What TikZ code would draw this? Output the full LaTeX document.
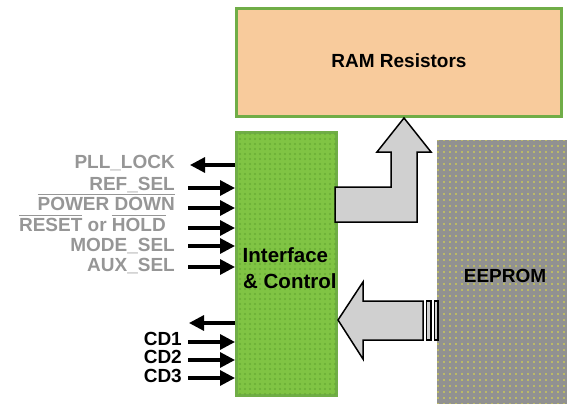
\documentclass[tikz,border=0pt]{standalone}
\usepackage{fontspec}
\setmainfont{Liberation Sans}
\usetikzlibrary{arrows.meta,patterns.meta}
\definecolor{grnbd}{RGB}{112,173,71}
\definecolor{grnfill}{RGB}{128,196,68}
\definecolor{grndot}{RGB}{106,174,54}
\definecolor{peach}{RGB}{248,203,156}
\definecolor{eegray}{RGB}{145,145,145}
\definecolor{eedot}{RGB}{232,226,60}
\definecolor{lblgray}{RGB}{150,150,150}
\definecolor{arrgray}{RGB}{208,208,208}
\newcommand\myovl[1]{\leavevmode\vbox{\hrule height 1.3pt\kern 1.6pt\hbox{#1}}}
\begin{document}
\begin{tikzpicture}[x=1pt,y=-1pt,
  boxstyle/.style={draw=grnbd, line width=3pt, inner sep=0pt},
  ramstyle/.style={boxstyle, fill=peach, minimum width=325pt, minimum height=108pt},
  ifacestyle/.style={boxstyle, fill=grnfill, minimum width=100pt, minimum height=263pt,
     postaction={pattern={Dots[distance=5pt,radius=1.2pt]}, pattern color=grndot}},
  eestyle/.style={fill=eegray, inner sep=0pt, minimum width=130pt, minimum height=264pt,
     postaction={pattern={Dots[distance=6pt,radius=0.9pt]}, pattern color=eedot}},
  bigtxt/.style={font=\fontsize{19}{22}\selectfont\bfseries, inner sep=0pt},
  iftxt/.style={font=\fontsize{20.5}{24}\selectfont\bfseries, inner sep=0pt, anchor=base west},
  lbl/.style={font=\fontsize{19}{22}\selectfont\bfseries, text=lblgray, inner sep=0pt, anchor=base east},
  cdlbl/.style={font=\fontsize{19}{22}\selectfont\bfseries, text=black, inner sep=0pt, anchor=base east},
  sigarrow/.style={draw=black, line width=3.2pt, -{Triangle[length=15pt,width=15pt]}},
  blockarrow/.style={draw=black, line width=1.5pt, fill=arrgray, line join=miter}
]
\useasboundingbox (0,0) rectangle (568,404);

% boxes
\node[ramstyle] (ram) at (399,62.5) {};
\node[bigtxt, anchor=base] (ramtxt) at (399,68) {RAM Resistors};
\node[eestyle] (ee) at (502,272) {};
\node[bigtxt, anchor=base] (eetxt) at (505,282) {EEPROM};
\node[ifacestyle] (iface) at (286.5,264) {};
\node[iftxt] (if1) at (242.5,262) {Interface};
\node[iftxt] (if2) at (243,288.5) {\& Control};

% block arrow up (L shaped)
\draw[blockarrow] (335,187) -- (391,187) -- (391,152) -- (377,152) -- (404,118)
   -- (431,152) -- (417,152) -- (417,222) -- (335,222) -- cycle;
% block arrow left from EEPROM
\draw[blockarrow] (338,320) -- (363,282) -- (363,301) -- (423,301) -- (423,340)
   -- (363,340) -- (363,359) -- cycle;
\draw[blockarrow] (426.5,301) rectangle (431,340);
\draw[blockarrow] (434.5,301) rectangle (438,340);

% signal coordinates
\coordinate (pll) at (190,165);
\coordinate (refs) at (188,188);
\coordinate (pdn) at (188,208);
\coordinate (rst) at (188,228);
\coordinate (mode) at (188,246);
\coordinate (aux) at (188,267);
\coordinate (cdo) at (189,323);
\coordinate (cd1) at (188,342);
\coordinate (cd2) at (188,360);
\coordinate (cd3) at (188,378);

\draw[sigarrow] (pll -| iface.west) -- (pll);
\draw[sigarrow] (refs) -- (refs -| iface.west);
\draw[sigarrow] (pdn) -- (pdn -| iface.west);
\draw[sigarrow] (rst) -- (rst -| iface.west);
\draw[sigarrow] (mode) -- (mode -| iface.west);
\draw[sigarrow] (aux) -- (aux -| iface.west);
\draw[sigarrow] (cdo -| iface.west) -- (cdo);
\draw[sigarrow] (cd1) -- (cd1 -| iface.west);
\draw[sigarrow] (cd2) -- (cd2 -| iface.west);
\draw[sigarrow] (cd3) -- (cd3 -| iface.west);

% labels
\node[lbl] (lpll) at (175,168) {PLL\_LOCK};
\node[lbl] (lref) at (175,190) {REF\_SEL};
\node[lbl] (lpd) at (175,210) {\myovl{POWER DOWN}};
\node[lbl] (lrst) at (166,231) {\myovl{RESET} or \myovl{HOLD}};
\node[lbl] (lmode) at (175,251) {MODE\_SEL};
\node[lbl] (laux) at (175,271) {AUX\_SEL};
\node[cdlbl] (lcd1) at (182,345) {CD1};
\node[cdlbl] (lcd2) at (182,363) {CD2};
\node[cdlbl] (lcd3) at (182,382) {CD3};
\end{tikzpicture}
\end{document}
